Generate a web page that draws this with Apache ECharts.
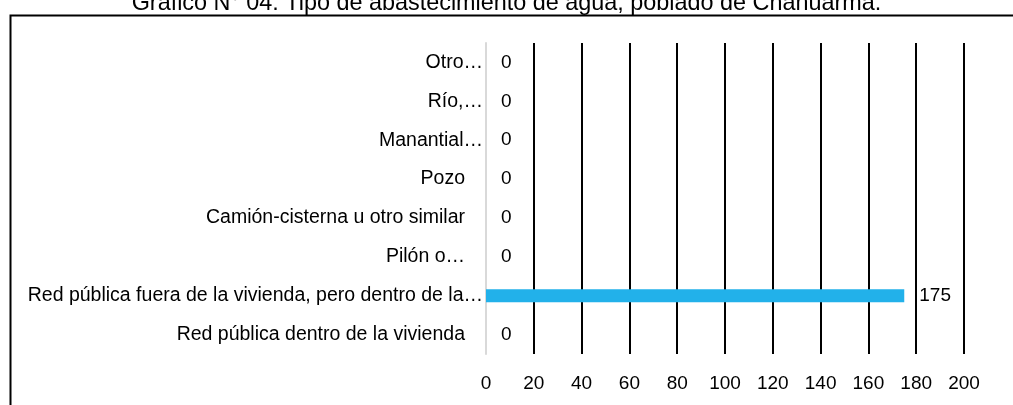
<!DOCTYPE html>
<html>
<head>
<meta charset="utf-8">
<script src="https://cdn.jsdelivr.net/npm/echarts@6/dist/echarts.min.js"></script>
<style>
  html, body { margin: 0; padding: 0; background: #fff; }
  #chart { width: 1013px; height: 405px; }
</style>
</head>
<body>
<div id="chart"></div>
<script>
// data, bottom category first
const categories = [
    'Red pública dentro de la vivienda',
    'Red pública fuera de la vivienda, pero dentro de la…',
    'Pilón o…',
    'Camión-cisterna u otro similar',
    'Pozo',
    'Manantial…',
    'Río,…',
    'Otro…'
]
const values = [0, 175, 0, 0, 0, 0, 0, 0]
const xTicks = [0, 200, 20] // min, max, step
const titleText = 'Gráfico N° 04: Tipo de abastecimiento de agua, poblado de Chanuarma.'

// labels excel squeezed right against the axis
const tightLabels = ['Otro…', 'Río,…', 'Manantial…', 'Red pública fuera de la vivienda, pero dentro de la…']

const font = '"Liberation Sans", Arial, sans-serif'
const myChart = echarts.init(document.getElementById('chart'))

const option = {
    animation: false,
    textStyle: { fontFamily: font },
    title: {
        text: titleText,
        left: 'center',
        top: -13,
        textStyle: { fontFamily: font, fontSize: 23.4, fontWeight: 'normal', color: '#000' }
    },
    graphic: [
        {
            type: 'rect',
            left: 8,
            top: 13,
            shape: { width: 1200, height: 600 },
            style: { fill: 'none', stroke: '#000', lineWidth: 2 }
        }
    ],
    grid: { left: 486, right: 49, top: 43, bottom: 51, containLabel: false },
    xAxis: {
        type: 'value',
        min: xTicks[0],
        max: xTicks[1],
        interval: xTicks[2],
        axisLine: { show: false },
        axisTick: { show: false },
        axisLabel: { color: '#000', fontSize: 19, margin: 20, fontFamily: font },
        splitLine: { show: true, lineStyle: { color: '#000', width: 2 } }
    },
    yAxis: {
        type: 'category',
        data: categories,
        axisLine: { show: true, lineStyle: { color: '#d9d9d9', width: 2 } },
        axisTick: { show: false },
        axisLabel: {
            margin: 3,
            fontFamily: font,
            formatter: (v) => tightLabels.includes(v) ? '{t|' + v + '}' : '{p|' + v + '}',
            rich: {
                t: { color: '#000', fontSize: 19.5, fontFamily: font },
                p: { color: '#000', fontSize: 19.5, fontFamily: font, padding: [0, 18, 0, 0] }
            }
        }
    },
    series: [
        {
            type: 'bar',
            data: values,
            barWidth: 13,
            itemStyle: { color: '#22b1ea' },
            label: {
                show: true,
                position: 'right',
                distance: 15,
                color: '#000',
                fontSize: 19,
                fontFamily: font
            }
        }
    ]
}
myChart.setOption(option)
</script>
</body>
</html>
